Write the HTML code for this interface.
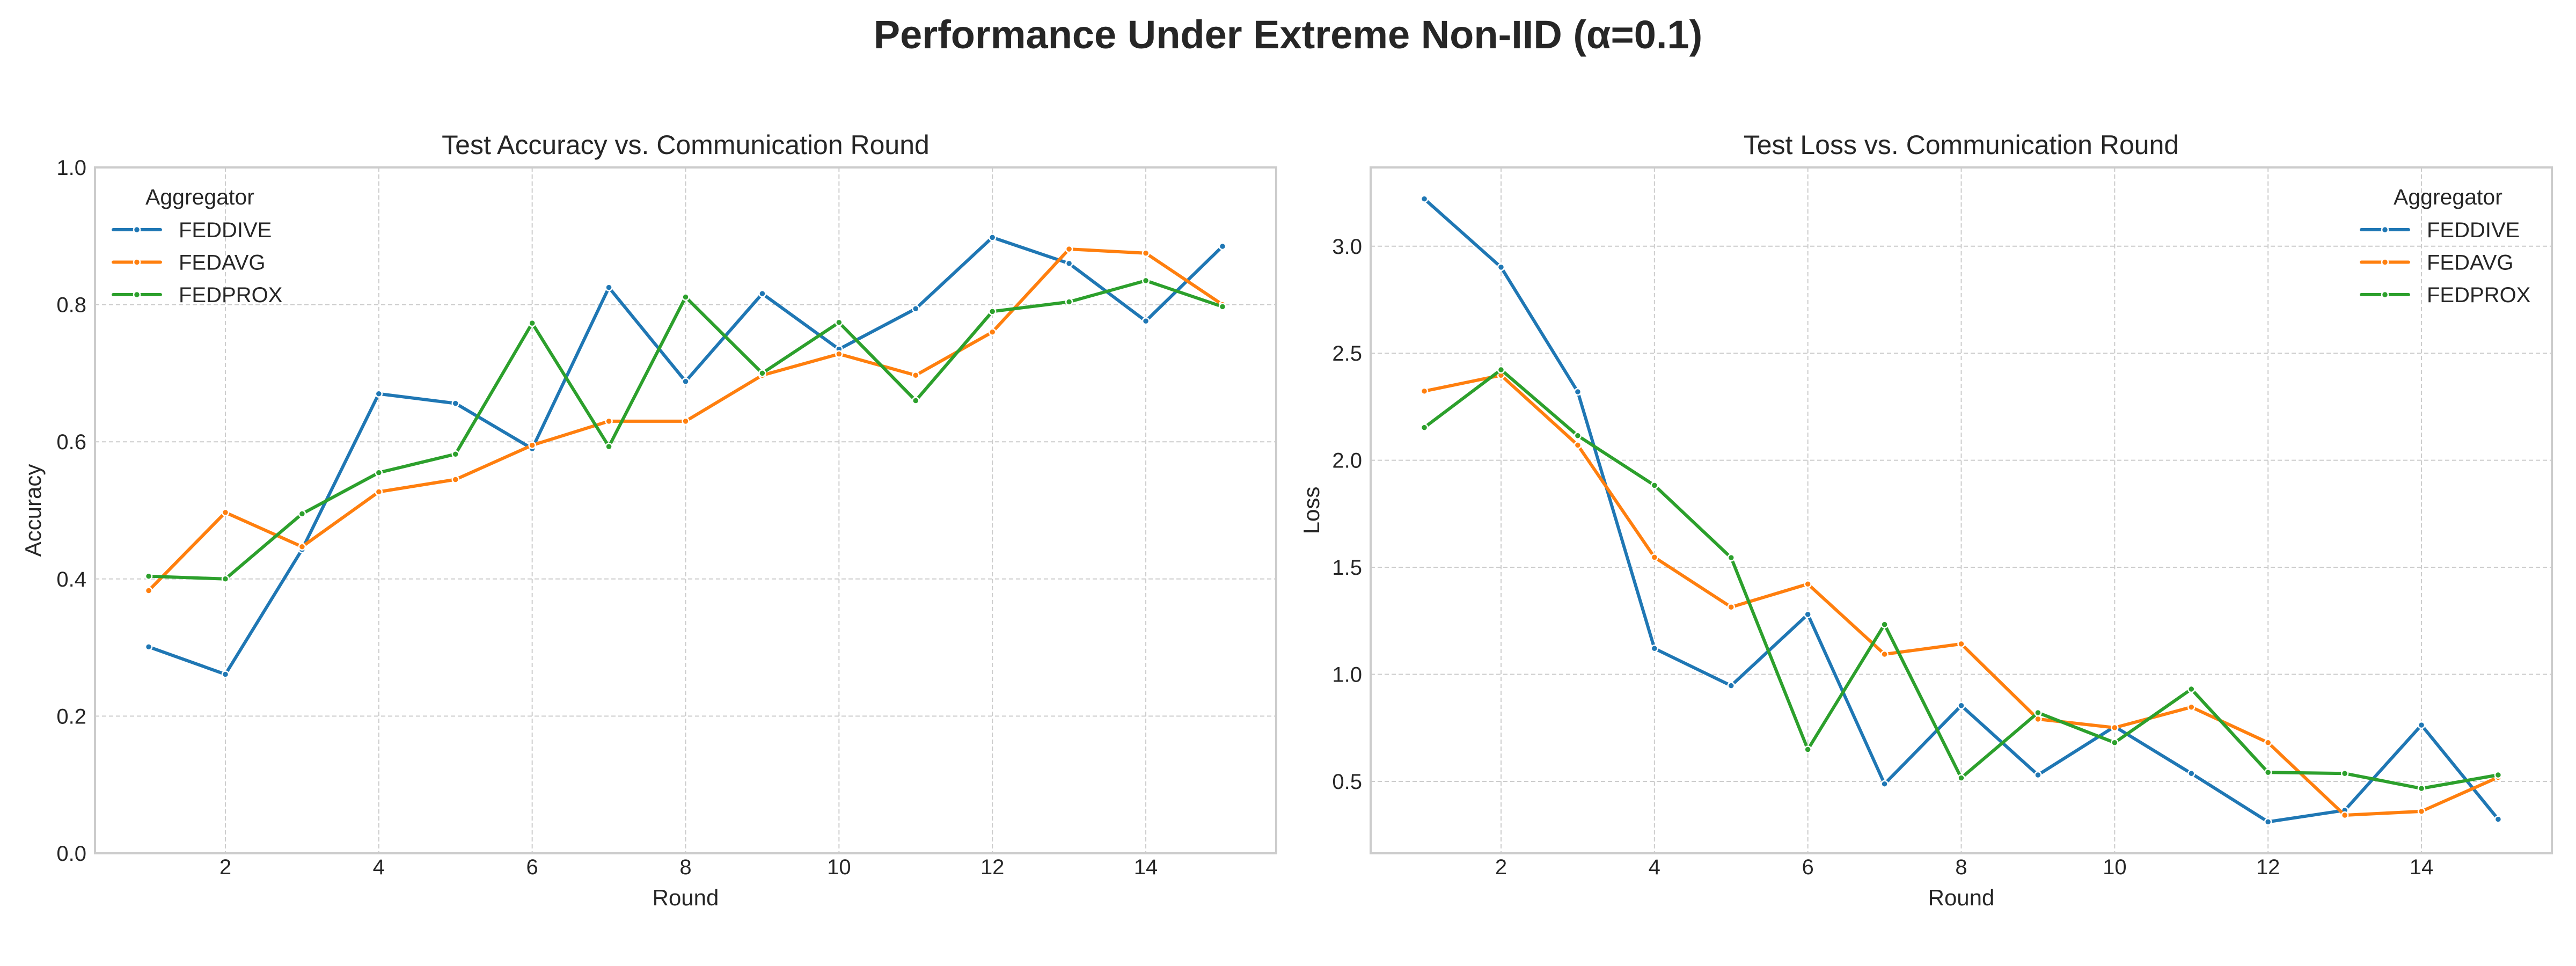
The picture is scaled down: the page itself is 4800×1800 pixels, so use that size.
<!DOCTYPE html>
<html><head><meta charset="utf-8"><style>
html,body{margin:0;padding:0;background:#fff;}
svg{display:block;font-family:"Liberation Sans",sans-serif;}
</style></head><body>
<svg id="fig" width="4800" height="1800" viewBox="0 0 4800 1800" xmlns="http://www.w3.org/2000/svg">
<rect x="0" y="0" width="4800" height="1800" fill="#fff"/>
<text x="2400" y="90" text-anchor="middle" font-size="74" font-weight="bold" fill="#262626">Performance Under Extreme Non-IID (α=0.1)</text>
<g id="plots"></g>
</svg>
<script>
const rounds = [1,2,3,4,5,6,7,8,9,10,11,12,13,14,15];
const seriesNames = ["FEDDIVE","FEDAVG","FEDPROX"];
const accFeddive = [0.301,0.261,0.443,0.670,0.656,0.590,0.825,0.688,0.816,0.735,0.794,0.898,0.860,0.776,0.885];
const accFedavg  = [0.383,0.497,0.447,0.527,0.545,0.595,0.630,0.630,0.697,0.728,0.697,0.760,0.881,0.875,0.800];
const accFedprox = [0.404,0.400,0.495,0.555,0.582,0.773,0.593,0.811,0.700,0.774,0.660,0.790,0.804,0.835,0.797];
const lossFeddive = [3.221,2.902,2.320,1.121,0.947,1.280,0.488,0.854,0.530,0.756,0.537,0.311,0.365,0.763,0.323];
const lossFedavg  = [2.323,2.397,2.071,1.547,1.314,1.422,1.094,1.142,0.791,0.751,0.847,0.681,0.342,0.360,0.519];
const lossFedprox = [2.153,2.423,2.115,1.883,1.545,0.649,1.233,0.516,0.821,0.681,0.931,0.542,0.537,0.467,0.530];
const xTicks = [2,4,6,8,10,12,14];
const accTicks = [0.0,0.2,0.4,0.6,0.8,1.0];
const lossTicks = [0.5,1.0,1.5,2.0,2.5,3.0];
const colors = ["#1f77b4","#ff7f0e","#2ca02c"];

const NS = "http://www.w3.org/2000/svg";
const root = document.getElementById("plots");
function mk(tag, attrs, parent){
  const e = document.createElementNS(NS, tag);
  for (const k in attrs) e.setAttribute(k, attrs[k]);
  (parent||root).appendChild(e);
  return e;
}

function drawPanel(cfg){
  const g = mk("g", {});
  
  
  const L = cfg.left, R = cfg.right, T = 312, B = 1590;
  const xmin = 0.3, xmax = 15.7;
  const sx = v => L + (v - xmin) / (xmax - xmin) * (R - L);
  const sy = v => B - (v - cfg.ymin) / (cfg.ymax - cfg.ymin) * (B - T);
  xTicks.forEach(t => {
    const l = mk("line", {x1:sx(t), x2:sx(t), y1:T, y2:B, stroke:"#cccccc", "stroke-width":2, "stroke-dasharray":"8,5"}, g);
    
    
    const tx = mk("text", {x:sx(t), y:1629, "text-anchor":"middle", "font-size":40, fill:"#262626"}, g);
    
    
    tx.textContent = t;
  });
  cfg.ticks.forEach(t => {
    const l = mk("line", {x1:L, x2:R, y1:sy(t), y2:sy(t), stroke:"#cccccc", "stroke-width":2, "stroke-dasharray":"8,5"}, g);
    
    
    const tx = mk("text", {x:L-16, y:sy(t)+14, "text-anchor":"end", "font-size":40, fill:"#262626"}, g);
    
    
    tx.textContent = t.toFixed(1);
  });
  const frame = mk("rect", {x:L, y:T, width:R-L, height:B-T, fill:"none", stroke:"#cccccc", "stroke-width":4}, g);
  
  
  cfg.series.forEach((vals, i) => {
    const pts = vals.map((v, j) => sx(rounds[j]) + "," + sy(v)).join(" ");
    const pl = mk("polyline", {points:pts, fill:"none", stroke:colors[i], "stroke-width":6, "stroke-linejoin":"round", "stroke-linecap":"round"}, g);
    
    
    vals.forEach((v, j) => {
      const c = mk("circle", {cx:sx(rounds[j]), cy:sy(v), r:6, fill:colors[i], stroke:"#fff", "stroke-width":2.5}, g);
      
      
    });
  });
  const tt = mk("text", {x:(L+R)/2, y:287, "text-anchor":"middle", "font-size":50, fill:"#262626"}, g);
  
  
  tt.textContent = cfg.title;
  const xl = mk("text", {x:(L+R)/2, y:1687, "text-anchor":"middle", "font-size":42, fill:"#262626"}, g);
  
  
  xl.textContent = "Round";
  const yc = (T+B)/2;
  const yl = mk("text", {x:cfg.ylabelX, y:yc, "text-anchor":"middle", "font-size":42, fill:"#262626", transform:`rotate(-90 ${cfg.ylabelX} ${yc})`}, g);
  
  
  yl.textContent = cfg.ylabel;
  const lg = mk("g", {}, g);
  
  
  const lx = cfg.legendX;
  const ht = mk("text", {x:lx+60, y:381, "font-size":41, fill:"#262626"}, lg);
  
  
  ht.textContent = "Aggregator";
  seriesNames.forEach((n, i) => {
    const y = 428 + i*60.5;
    const e = mk("g", {}, lg);
    
    
    mk("line", {x1:lx, x2:lx+88, y1:y, y2:y, stroke:colors[i], "stroke-width":6, "stroke-linecap":"round"}, e);
    mk("circle", {cx:lx+44, cy:y, r:6, fill:colors[i], stroke:"#fff", "stroke-width":2.5}, e);
    const t = mk("text", {x:lx+122, y:y+14, "font-size":40, fill:"#262626"}, e);
    t.textContent = n;
  });
}

drawPanel({name:"accuracy-chart", left:177, right:2378, ymin:0, ymax:1, ticks:accTicks,
  series:[accFeddive, accFedavg, accFedprox], title:"Test Accuracy vs. Communication Round",
  ylabel:"Accuracy", ylabelX:76, legendX:211});
drawPanel({name:"loss-chart", left:2554, right:4755, ymin:0.164, ymax:3.368, ticks:lossTicks,
  series:[lossFeddive, lossFedavg, lossFedprox], title:"Test Loss vs. Communication Round",
  ylabel:"Loss", ylabelX:2458, legendX:4400});
</script>
</body></html>
